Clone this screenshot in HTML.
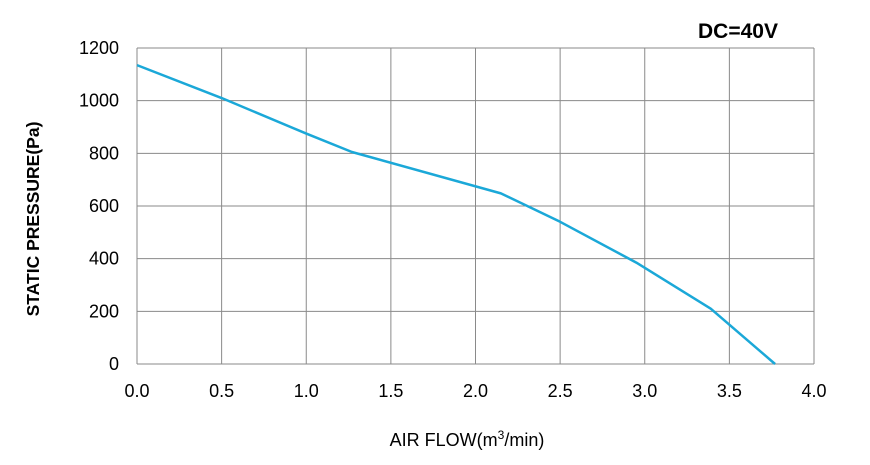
<!DOCTYPE html>
<html><head><meta charset="utf-8"><style>
body{margin:0;background:#fff;width:870px;height:460px;overflow:hidden;font-family:"Liberation Sans",sans-serif}
</style></head><body>
<svg id="chart" width="870" height="460" xmlns="http://www.w3.org/2000/svg">
<text x="738" y="38" font-size="21" font-weight="bold" text-anchor="middle" fill="#000">DC=40V</text>
<text transform="translate(39,219) rotate(-90)" font-size="17.5" font-weight="bold" text-anchor="middle" fill="#000">STATIC PRESSURE(Pa)</text>
<text x="467" y="446" font-size="18" text-anchor="middle" fill="#000">AIR FLOW(m<tspan dy="-7" font-size="12">3</tspan><tspan dy="7">/min)</tspan></text>
<g id="grid"></g><g id="ticks"></g><g id="series"></g>
</svg>
<script>
const xTicks=[0,0.5,1.0,1.5,2.0,2.5,3.0,3.5,4.0];
const yTicks=[0,200,400,600,800,1000,1200];
const flow=[0,0.5,1.0,1.27,2.15,2.5,2.95,3.39,3.77];
const pressure=[1135,1010,875,805,648,540,385,210,0];
const L=137,R=814,T=48,B=364;
const xs=v=>L+(v-0)/(4-0)*(R-L);
const ys=v=>B-(v/1200)*(B-T);
const NS="http://www.w3.org/2000/svg";
const grid=document.getElementById('grid'),ticks=document.getElementById('ticks'),ser=document.getElementById('series');
function mk(t,a){const e=document.createElementNS(NS,t);for(const k in a)e.setAttribute(k,a[k]);return e;}
xTicks.forEach(v=>{
 const l=mk('line',{x1:xs(v),x2:xs(v),y1:T,y2:B,stroke:'#8a8a8a','stroke-width':1});
 
 
 grid.appendChild(l);
 const t=mk('text',{x:xs(v),y:397,'font-size':18,'text-anchor':'middle',fill:'#000'});
 t.textContent=v.toFixed(1);
 
 
 ticks.appendChild(t);
});
yTicks.forEach(v=>{
 const l=mk('line',{x1:L,x2:R,y1:ys(v),y2:ys(v),stroke:'#8a8a8a','stroke-width':1});
 
 
 grid.appendChild(l);
 const t=mk('text',{x:119,y:ys(v)+6,'font-size':18,'text-anchor':'end',fill:'#000'});
 t.textContent=v;
 
 
 ticks.appendChild(t);
});
const p=mk('polyline',{points:flow.map((f,i)=>xs(f)+','+ys(pressure[i])).join(' '),fill:'none',stroke:'#1ba8d8','stroke-width':2.5,'stroke-linejoin':'round'});


ser.appendChild(p);
</script>
</body></html>
